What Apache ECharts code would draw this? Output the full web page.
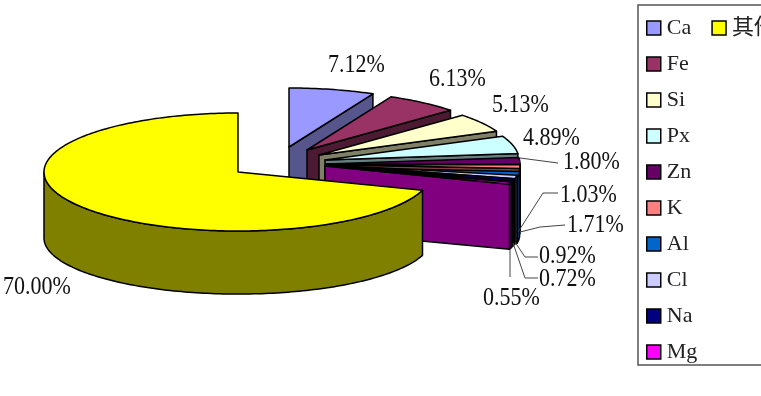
<!DOCTYPE html>
<html><head><meta charset="utf-8">
<style>html,body{margin:0;padding:0;background:#fff}#c{width:761px;height:396px}</style>
<script src="https://cdn.jsdelivr.net/npm/echarts@6/dist/echarts.min.js"></script>
</head><body><div id="c"></div>
<script>
const categories = ['Ca','Fe','Si','Px','Zn','K','Al','Cl','Na','Mg','其他元素'];
const values = [7.12,6.13,5.13,4.89,1.80,1.03,1.71,0.92,0.72,0.55,70.00];
const topColors = ['#9999FF','#993366','#FFFFCC','#CCFFFF','#660066','#FF8080','#0066CC','#CCCCFF','#000080','#FF00FF','#FFFF00'];
const sideColors = ['#56568C','#4D1A33','#808066','#668080','#330033','#804040','#003366','#666680','#000040','#800080','#808000'];
// slice apex positions (exploded pie layout)
const apexX = [289,307,319,325,326,326,326,326,326,325,238];
const apexY = [147,150,155,160,164,164.5,167.5,165,165,166,172];
// value label anchors and leader lines (layout only)
const labelX = [328,429,492,523,563,560,567,539,539,483,3];
const labelY = [65,79,105,138,162,195,225,256,279,298,287];
const leaders = [null,null,null,null,
  [[520,158],[558,163]],
  [[558,193],[543,193],[518,232]],
  [[565,225],[540,227],[520,232]],
  [[538,257],[525,257],[515,242]],
  [[538,278],[525,278],[513,243]],
  [[510,250],[510,277]],
  null];
const RX = 194, RY = 59, DEPTH = 66, BOTTOM_RY = 0.95 * RY;
const total = values.reduce((a, b) => a + b, 0);
const starts = []; values.reduce((acc, v, i) => (starts[i] = acc, acc + v), 0);
const toAngle = v => v / total * 2 * Math.PI;

function topPt(i, t) { return [apexX[i] + RX * Math.sin(t), apexY[i] - RY * Math.cos(t)]; }
function botPt(i, t) { return [apexX[i] + RX * Math.sin(t), apexY[i] + DEPTH - BOTTOM_RY * Math.cos(t)]; }
function arc(fn, i, a, b) {
  const n = Math.max(2, Math.ceil((b - a) / 0.02)), out = [];
  for (let k = 0; k <= n; k++) out.push(fn(i, a + (b - a) * k / n));
  return out;
}
const edge = { stroke: '#000', lineWidth: 1.5, lineJoin: 'round' };

function renderSlice(i) {
  const a = toAngle(starts[i]), b = toAngle(starts[i] + values[i]);
  const kids = [];
  // outer rim wall: only the part that faces the viewer
  const ra = Math.max(a, Math.PI / 2), rb = Math.min(b, 1.5 * Math.PI);
  if (rb > ra) {
    const pts = arc(topPt, i, ra, rb).concat(arc(botPt, i, ra, rb).reverse());
    kids.push({ type: 'polygon', shape: { points: pts }, style: { fill: sideColors[i], ...edge } });
  }
  // radial end wall
  if (b < Math.PI) {
    kids.push({ type: 'polygon', shape: { points: [
      [apexX[i], apexY[i]], topPt(i, b), botPt(i, b), [apexX[i], apexY[i] + DEPTH]
    ] }, style: { fill: sideColors[i], ...edge } });
  }
  // top face
  kids.push({ type: 'polygon', shape: { points: [[apexX[i], apexY[i]]].concat(arc(topPt, i, a, b)) },
    style: { fill: topColors[i], ...edge } });
  if (leaders[i]) {
    kids.push({ type: 'polyline', shape: { points: leaders[i] }, z2: 50,
      style: { stroke: '#444', lineWidth: 1, fill: 'none' } });
  }
  kids.push({ type: 'text', z2: 60, x: labelX[i], y: labelY[i], scaleX: 0.88, style: {
    x: 0, y: 0, text: values[i].toFixed(2) + '%',
    font: '25px "Liberation Serif"', fill: '#111', align: 'left', verticalAlign: 'middle'
  } });
  return { type: 'group', children: kids };
}

const series = categories.map((name, i) => ({
  type: 'custom', name, coordinateSystem: 'none', silent: true,
  itemStyle: { color: topColors[i] },
  data: [[values[i]]],
  renderItem: () => renderSlice(i)
}));

const chart = echarts.init(document.getElementById('c'), null, { renderer: 'canvas' });
chart.setOption({
  animation: false,
  backgroundColor: '#fff',
  legend: {
    orient: 'vertical', left: 638, top: 5, padding: [12, 8, 2, 8],
    data: categories, icon: 'rect', itemWidth: 14, itemHeight: 14, itemGap: 14,
    selectedMode: false, borderColor: '#555', borderWidth: 1.5,
    itemStyle: { borderColor: '#000', borderWidth: 1.5 },
    textStyle: { fontFamily: '"Liberation Serif","Noto Sans CJK SC"', fontSize: 22, color: '#222', padding: [0,0,0,1], height: 21, lineHeight: 21 }
  },
  series
});
</script></body></html>
